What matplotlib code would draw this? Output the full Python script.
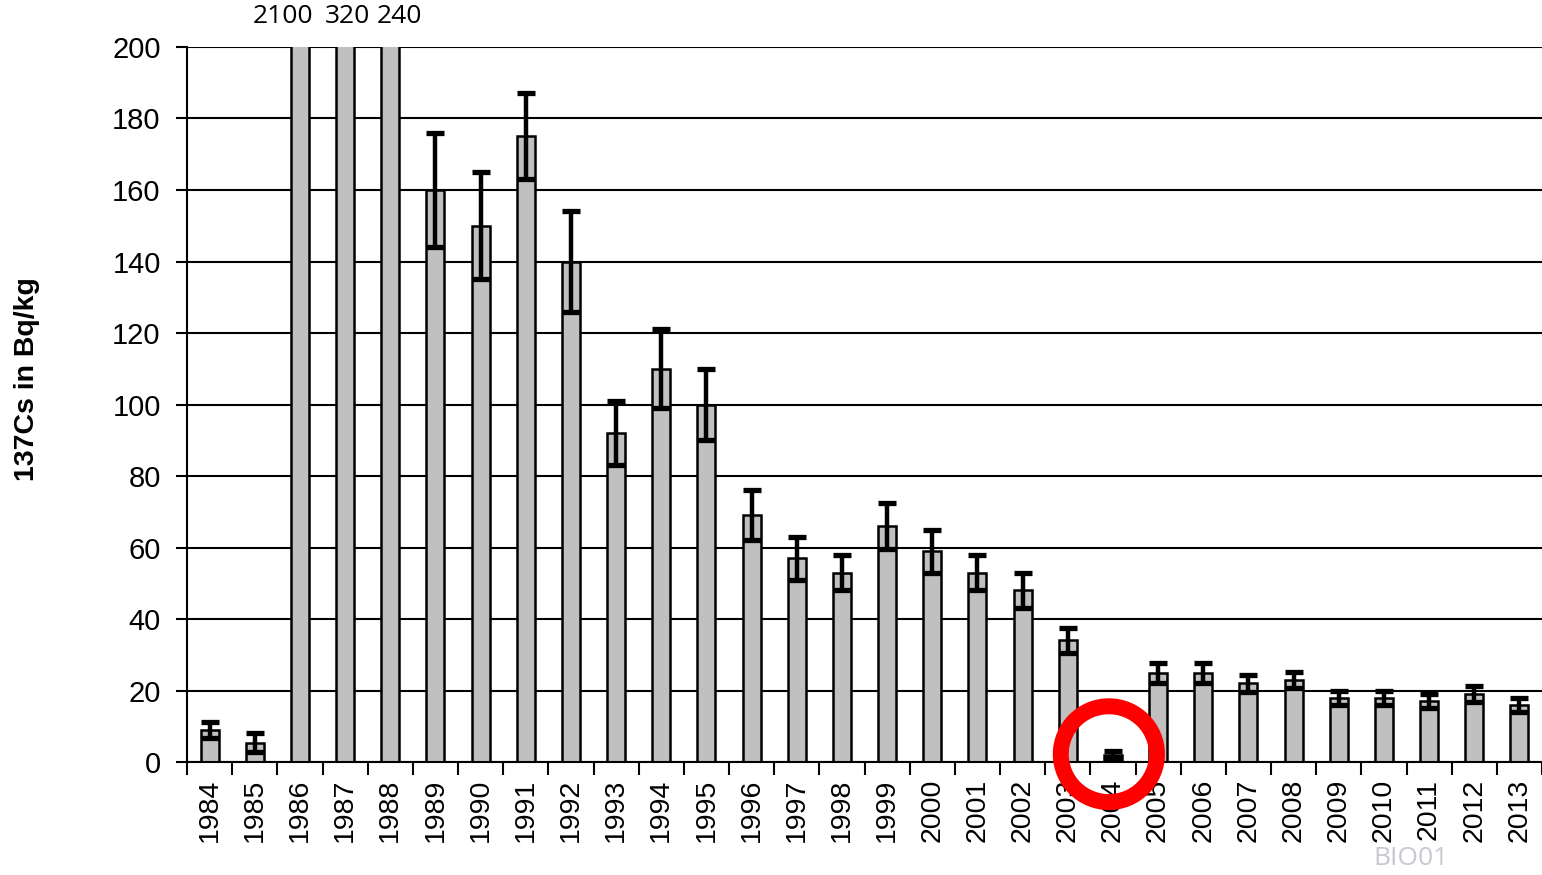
import numpy as np
import matplotlib.pyplot as plt
from matplotlib.patches import Ellipse
from matplotlib.ticker import FixedLocator

plt.rcParams['font.family'] = ['Liberation Sans', 'DejaVu Sans']

# Daten: 137Cs in Bq/kg (1986-1988 abgeschnitten, Werte oben beschriftet)
years = [str(y) for y in range(1984, 2014)]
values = [9, 5.4, 2100, 320, 240, 160, 150, 175, 140, 92, 110, 100, 69, 57, 53,
          66, 59, 53, 48, 34, 2, 25, 25, 22, 23, 18, 18, 17, 19, 16]
errors = [2.3, 2.7, 0, 0, 0, 16, 15, 12, 14, 9, 11, 10, 7, 6, 5,
          6.5, 6, 5, 5, 3.5, 1, 2.8, 2.8, 2.3, 2.3, 2, 2, 2, 2.3, 2]
clipped_labels = {"1986": "2100", "1987": "320", "1988": "240"}

y_top = 200
shown = [min(v, y_top + 5) for v in values]
x = np.arange(len(years))

fig = plt.figure(figsize=(15.42, 8.75), dpi=100)
ax = fig.add_axes([0.1213, 0.1291, 0.8787, 0.8172])

ax.set_axisbelow(True)
ax.grid(True, axis="y", color="black", linewidth=1.5)
ax.bar(x, shown, width=0.4, color="#c0c0c0", edgecolor="black", linewidth=1.8, zorder=2)
err_mask = np.array(errors) > 0
ax.errorbar(x[err_mask], np.array(values)[err_mask], yerr=np.array(errors)[err_mask],
            fmt="none", ecolor="black", elinewidth=3.2, capsize=6.5, capthick=3.8, zorder=3)

ax.set_xlim(-0.5, len(years) - 0.5)
ax.set_ylim(0, y_top)
ax.set_yticks(range(0, 201, 20))
ax.tick_params(axis="y", labelsize=21, length=8, width=1.5, pad=11)

ax.set_xticks(x)
ax.set_xticklabels(years, rotation=90, fontsize=20.5)
ax.tick_params(axis="x", which="major", length=0, pad=12)
ax.xaxis.set_minor_locator(FixedLocator(np.arange(-0.5, len(years), 1.0)))
ax.tick_params(axis="x", which="minor", length=9, width=1.5)

for side in ["top", "right"]:
    ax.spines[side].set_visible(False)
ax.spines["left"].set_linewidth(1.5)
ax.spines["bottom"].set_linewidth(1.5)

# Achsentitel etwas oberhalb der Mitte, wie im Original
fig.text(0.0175, 0.567, "137Cs in Bq/kg", fontsize=20.5, fontweight="bold",
         rotation=90, ha="center", va="center")

# Beschriftung der abgeschnittenen Balken
label_x = {"1986": -0.38, "1987": 0.05, "1988": 0.2}
for year, text in clipped_labels.items():
    i = years.index(year)
    ax.text(i + label_x[year], y_top + 5, text, ha="center", va="bottom",
            fontsize=19, family=["Open Sans", "DejaVu Sans"], clip_on=False)

# roter Kreis um 2004
i04 = years.index("2004")
ax.add_patch(Ellipse((i04 - 0.09, 2.2), width=2.13, height=26.8, fill=False,
                     edgecolor="#ff0000", linewidth=11.5, clip_on=False, zorder=5))

fig.text(0.915, 0.019, "BIO01", color="#c8c8d2", fontsize=19,
         family=["Open Sans", "DejaVu Sans"], ha="center", va="center")

fig.savefig("out.png", dpi=100)
